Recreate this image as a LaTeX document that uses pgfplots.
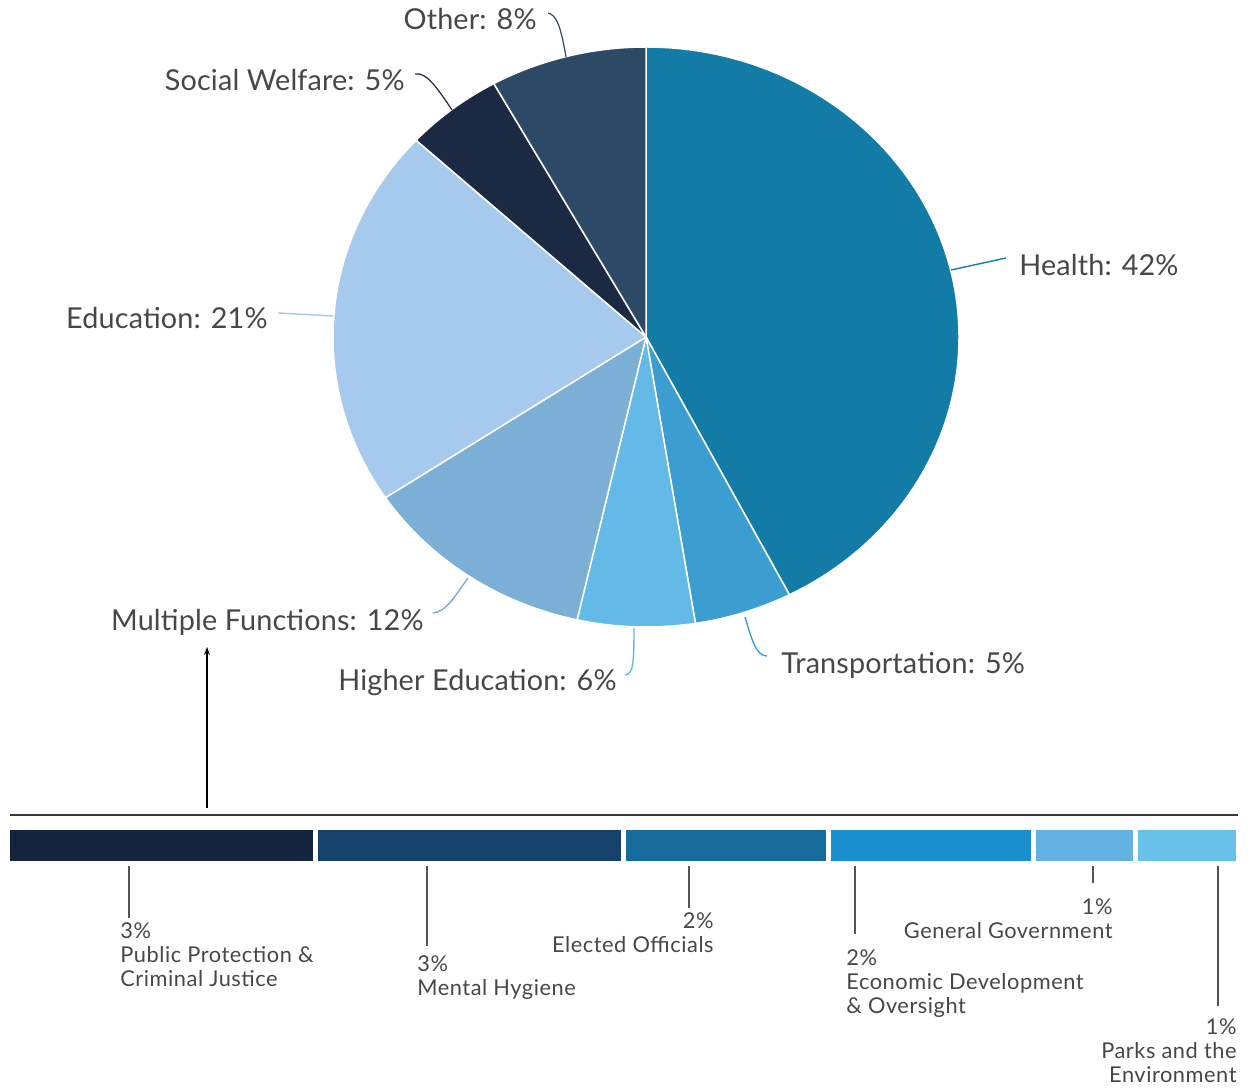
\documentclass[border=0pt]{standalone}
\usepackage{pgfplots}
\pgfplotsset{compat=1.18}
\usepackage{fontspec}
\setmainfont{Lato}
\usetikzlibrary{arrows.meta}
\definecolor{cHealth}{HTML}{137CA6}
\definecolor{cTrans}{HTML}{3C9ED0}
\definecolor{cHigh}{HTML}{64BAE7}
\definecolor{cMulti}{HTML}{7BAFD6}
\definecolor{cEdu}{HTML}{A6CAEE}
\definecolor{cSocial}{HTML}{1B2942}
\definecolor{cOther}{HTML}{2C4A66}
\definecolor{bA}{HTML}{13243D}
\definecolor{bB}{HTML}{15416A}
\definecolor{bC}{HTML}{156B9A}
\definecolor{bD}{HTML}{1A8FCE}
\definecolor{bE}{HTML}{62B1E1}
\definecolor{bF}{HTML}{67C1E9}
\definecolor{cText}{HTML}{474747}
\definecolor{cLine}{HTML}{555555}
% pie shares (percent)
\def\sHealth{42}\def\sTrans{5}\def\sHigh{6}\def\sMulti{12}\def\sEdu{21}\def\sSocial{5}\def\sOther{8}
\newcommand\slice[3]{%
  \fill[#3, draw=white, line width=0.75pt] (646,-337) -- ({646+313*cos(#1)},{-337+290*sin(#1)})
    arc[start angle=#1, end angle=#2, x radius=156.5pt, y radius=145pt] -- cycle;}
\newcommand\pl[3]{\node[font=\fontsize{14.4}{16}\selectfont\addfontfeatures{LetterSpace=0.5}, text=cText, inner sep=0pt, anchor=base #1] at (#2) {#3};}
\newcommand\bl[3]{\node[font=\fontsize{10.9}{12}\selectfont\addfontfeatures{LetterSpace=2.5}, text=cText, inner sep=0pt, anchor=base #1] at (#2) {#3};}
\begin{document}
\begin{tikzpicture}
\pgfmathsetmacro\tot{\sHealth+\sTrans+\sHigh+\sMulti+\sEdu+\sSocial+\sOther}
\pgfmathsetmacro\aA{90}
\pgfmathsetmacro\aB{\aA-360*\sHealth/\tot}
\pgfmathsetmacro\aC{\aB-360*\sTrans/\tot}
\pgfmathsetmacro\aD{\aC-360*\sHigh/\tot}
\pgfmathsetmacro\aE{\aD-360*\sMulti/\tot}
\pgfmathsetmacro\aF{\aE-360*\sEdu/\tot}
\pgfmathsetmacro\aG{\aF-360*\sSocial/\tot}
\pgfmathsetmacro\aH{\aG-360*\sOther/\tot}
\begin{axis}[x=0.5pt, y=0.5pt, xmin=0, xmax=1251, ymin=-1087, ymax=0,
  hide axis, clip=false, anchor=south west, at={(0,0)}]
\slice{\aA}{\aB}{cHealth}
\slice{\aB}{\aC}{cTrans}
\slice{\aC}{\aD}{cHigh}
\slice{\aD}{\aE}{cMulti}
\slice{\aE}{\aF}{cEdu}
\slice{\aF}{\aG}{cSocial}
\slice{\aG}{\aH}{cOther}
% leaders
\draw[cOther, line width=0.6pt] (548,-13) .. controls (557,-15) and (561,-28) .. (566,-57);
\draw[cSocial, line width=0.6pt] (415,-74) .. controls (426,-72) and (436,-86) .. (452,-110);
\draw[cHealth, line width=0.7pt] (1006,-258) -- (951,-270);
\draw[cEdu, line width=0.7pt] (278,-313) -- (333,-316);
\draw[cMulti, line width=0.7pt] (433,-613) .. controls (446,-612) and (455,-596) .. (468,-578);
\draw[cHigh, line width=0.7pt] (625,-675) .. controls (633,-674) and (634,-665) .. (634,-628);
\draw[cTrans, line width=0.7pt] (745,-617) .. controls (752,-640) and (756,-656) .. (767,-656);
% pie labels
\pl{east}{537,-29.5}{Other: 8\%}
\pl{east}{405,-91}{Social Welfare: 5\%}
\pl{west}{1019,-276}{Health: 42\%}
\pl{east}{268,-329}{Education: 21\%}
\pl{east}{424,-631}{Multiple Functions: 12\%}
\pl{east}{617,-691}{Higher Education: 6\%}
\pl{west}{781,-674}{Transportation: 5\%}
% arrow and rule
\draw[black, line width=0.6pt, -{Stealth[length=4pt,width=3pt]}] (207,-808) -- (207,-647);
\draw[cLine!70!black, line width=1pt] (10,-815) -- (1238,-815);
% bar leaders
\draw[cLine, line width=0.6pt] (129,-862) -- (129,-918);
\draw[cLine, line width=0.6pt] (427,-862) -- (427,-946);
\draw[cLine, line width=0.6pt] (689,-862) -- (689,-908);
\draw[cLine, line width=0.6pt] (855,-862) -- (855,-934);
\draw[cLine, line width=0.6pt] (1093,-862) -- (1093,-883);
\draw[cLine, line width=0.6pt] (1218,-862) -- (1218,-1006);
% bar labels
\bl{west}{120,-938}{3\%}
\bl{west}{120,-962}{Public Protection \&}
\bl{west}{120,-986}{Criminal Justice}
\bl{west}{417,-971}{3\%}
\bl{west}{417,-995}{Mental Hygiene}
\bl{east}{714,-928}{2\%}
\bl{east}{714,-952}{Elected Officials}
\bl{west}{846,-965}{2\%}
\bl{west}{846,-989}{Economic Development}
\bl{west}{846,-1013}{\& Oversight}
\bl{east}{1113,-914}{1\%}
\bl{east}{1113,-938}{General Government}
\bl{east}{1237,-1034}{1\%}
\bl{east}{1237,-1058}{Parks and the}
\bl{east}{1237,-1082}{Environment}
\end{axis}
\begin{axis}[at={(3.75pt,111.75pt)}, anchor=south west, scale only axis,
  width=615.5pt, height=18pt, xmin=0, xmax=12, ymin=0, ymax=1,
  enlargelimits=false, hide axis, clip=false, xbar stacked, bar width=18pt]
\addplot[fill=bA, draw=white, line width=2.5pt] coordinates {(3,0.5)};
\addplot[fill=bB, draw=white, line width=2.5pt] coordinates {(3,0.5)};
\addplot[fill=bC, draw=white, line width=2.5pt] coordinates {(2,0.5)};
\addplot[fill=bD, draw=white, line width=2.5pt] coordinates {(2,0.5)};
\addplot[fill=bE, draw=white, line width=2.5pt] coordinates {(1,0.5)};
\addplot[fill=bF, draw=white, line width=2.5pt] coordinates {(1,0.5)};
\end{axis}
\useasboundingbox (0,0) rectangle (625.5pt,543.5pt);
\end{tikzpicture}
\end{document}
